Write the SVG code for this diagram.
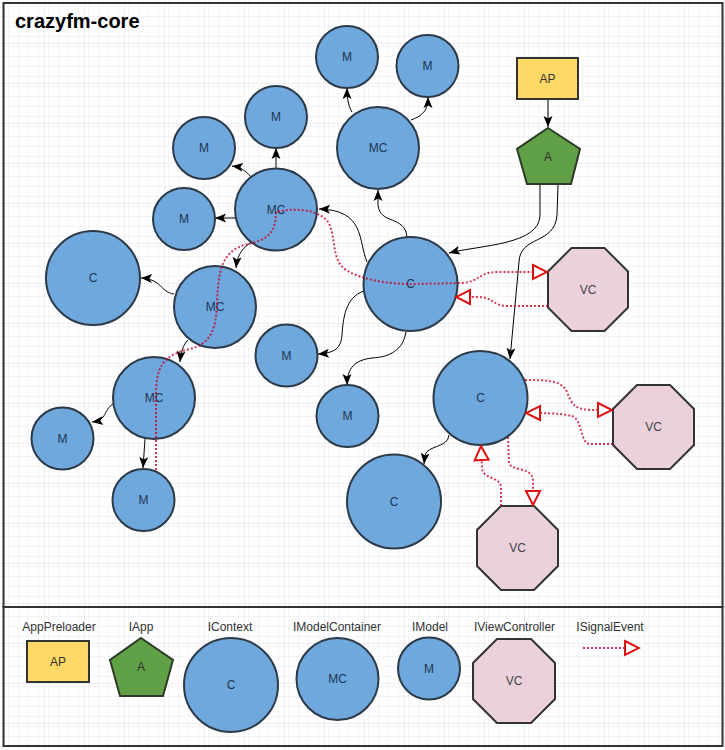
<svg xmlns="http://www.w3.org/2000/svg" width="725" height="750" viewBox="0 0 725 750">
<defs>
<pattern id="minor" width="10" height="10" patternUnits="userSpaceOnUse" x="4" y="3">
<path d="M10,0 L0,0 L0,10" fill="none" stroke="#e9e9f2" stroke-width="1"/>
</pattern>
<pattern id="major" width="40" height="40" patternUnits="userSpaceOnUse" x="4" y="3">
<rect width="40" height="40" fill="url(#minor)"/>
<path d="M40,0 L0,0 L0,40" fill="none" stroke="#dcdce8" stroke-width="1"/>
</pattern>
<marker id="arr" markerUnits="userSpaceOnUse" markerWidth="12" markerHeight="10" viewBox="0 0 12 10" refX="11" refY="5" orient="auto">
<path d="M0,0.5 L11,5 L0,9.5 L2.5,5 Z" fill="#000"/>
</marker>
<marker id="sig" markerUnits="userSpaceOnUse" markerWidth="18" markerHeight="18" viewBox="0 0 18 18" refX="16" refY="9" orient="auto">
<path d="M2,2 L16,9 L2,16 Z" fill="#fff" stroke="#dd1111" stroke-width="2"/>
</marker>
<style>
text{font-family:"Liberation Sans",Arial,sans-serif;font-size:12px;text-anchor:middle;dominant-baseline:central}
.frame{fill:none;stroke:#333;stroke-width:2}
.c{fill:#6fa8dc;stroke:#2c3a48;stroke-width:2}
.vc{fill:#ead1dc;stroke:#333;stroke-width:2}
.ap{fill:#ffd966;stroke:#333;stroke-width:2}
.a{fill:#60a047;stroke:#2e3a26;stroke-width:2}
.lc{fill:#1c3552}
.lv{fill:#444}
.ld{fill:#333}
.k{fill:none;stroke:#000;stroke-width:1;marker-end:url(#arr)}
.s{fill:none;stroke:#cc0022;stroke-opacity:0.78;stroke-width:2;stroke-dasharray:2 2;marker-end:url(#sig)}
.title{font-size:20px;font-weight:bold;text-anchor:start;dominant-baseline:alphabetic;fill:#000}
</style>
</defs>
<rect width="725" height="750" fill="#fff"/>
<rect width="725" height="750" fill="url(#major)"/>
<rect class="frame" x="3.5" y="3" width="719" height="604"/>
<rect class="frame" x="3.5" y="607" width="719" height="139"/>
<text class="title" x="15" y="28">crazyfm-core</text>

<g id="connectors">
<path class="k" d="M548,99 L548,127"/>
<path class="k" d="M540,184 L540,215 C540,245 480,245 449,253"/>
<path class="k" d="M558,184 L557,215 C555,245 520,235 519,262 L510,359"/>
<path class="k" d="M407,237 C405,215 380,225 378,205 L378,190"/>
<path class="k" d="M367,262 C358,240 365,210 319,209"/>
<path class="k" d="M364,291 C345,297 343,320 342,335 C341,348 335,353 318,354"/>
<path class="k" d="M406,332 C403,350 390,357 372,358 C355,360 347,368 347,385"/>
<path class="k" d="M276,168 L276,148"/>
<path class="k" d="M251,177 C245,170 240,167 232,166"/>
<path class="k" d="M235,218 L215,218"/>
<path class="k" d="M250,243 C240,250 237,258 236,268"/>
<path class="k" d="M174,294 C160,292 162,279 141,278"/>
<path class="k" d="M188,340 C183,345 181,352 180,362"/>
<path class="k" d="M113,404 C103,410 108,420 92,422"/>
<path class="k" d="M145,439 L143,468"/>
<path class="k" d="M352,112 C348,105 347,98 347,88"/>
<path class="k" d="M411,120 C425,115 428,108 428,97"/>
<path class="k" d="M449,435 C448,448 428,445 425,455 L424,464"/>
</g>

<g id="ap"><rect class="ap" x="517" y="58" width="61" height="41"/><text class="ld" x="547.5" y="78.5">AP</text></g>
<g id="a"><polygon class="a" points="548,128 580,149 571,184 527,184 517,149"/><text class="ld" x="548" y="157">A</text></g>
<g id="m1"><circle class="c" cx="347" cy="57" r="31"/><text class="lc" x="347" y="57">M</text></g>
<g id="m2"><circle class="c" cx="427.5" cy="66" r="31"/><text class="lc" x="427.5" y="66">M</text></g>
<g id="mc1"><circle class="c" cx="378" cy="148" r="41"/><text class="lc" x="378" y="148">MC</text></g>
<g id="m3"><circle class="c" cx="276" cy="117" r="31"/><text class="lc" x="276" y="117">M</text></g>
<g id="m4"><circle class="c" cx="204" cy="148" r="31"/><text class="lc" x="204" y="148">M</text></g>
<g id="m5"><circle class="c" cx="184" cy="219" r="31"/><text class="lc" x="184" y="219">M</text></g>
<g id="mc2"><circle class="c" cx="276" cy="209.5" r="41"/><text class="lc" x="276" y="209.5">MC</text></g>
<g id="c1"><circle class="c" cx="93" cy="278" r="47"/><text class="lc" x="93" y="278">C</text></g>
<g id="mc3"><circle class="c" cx="215" cy="307" r="41"/><text class="lc" x="215" y="307">MC</text></g>
<g id="mc4"><circle class="c" cx="154" cy="398" r="41"/><text class="lc" x="154" y="398">MC</text></g>
<g id="m6"><circle class="c" cx="62.5" cy="438.5" r="31"/><text class="lc" x="62.5" y="438.5">M</text></g>
<g id="m7"><circle class="c" cx="143.5" cy="500" r="31"/><text class="lc" x="143.5" y="500">M</text></g>
<g id="c2"><circle class="c" cx="410.5" cy="284" r="47"/><text class="lc" x="410.5" y="284">C</text></g>
<g id="m8"><circle class="c" cx="286.5" cy="355.5" r="31"/><text class="lc" x="286.5" y="355.5">M</text></g>
<g id="m9"><circle class="c" cx="347.5" cy="416" r="31"/><text class="lc" x="347.5" y="416">M</text></g>
<g id="c3"><circle class="c" cx="480.5" cy="398" r="47"/><text class="lc" x="480.5" y="398">C</text></g>
<g id="c4"><circle class="c" cx="394" cy="501.5" r="47"/><text class="lc" x="394" y="501.5">C</text></g>
<g id="vc1"><polygon class="vc" points="571.5,248 604.5,248 628,271.5 628,307.5 604.5,331 571.5,331 548,307.5 548,271.5"/><text class="lv" x="588" y="289.5">VC</text></g>
<g id="vc2"><polygon class="vc" points="637,385 670,385 694,409 694,445 670,469 637,469 613,445 613,409"/><text class="lv" x="653.5" y="427">VC</text></g>
<g id="vc3"><polygon class="vc" points="501,506 534,506 558,530 558,566 534,590 501,590 477,566 477,530"/><text class="lv" x="517.5" y="548">VC</text></g>

<g id="signals">
<path class="s" d="M156,470 L156,395 C156,368 162,355 190,349 C210,344 216,330 217,305 C218,270 222,250 248,244 C268,240 276,232 276,212 C290,208 318,208 328,222 C337,236 330,262 348,271 C362,280 390,284 411,284 L462,283 C480,282 478,272 498,272 L547,272"/>
<path class="s" d="M548,306 L508,306 C492,306 494,297 478,297 L456,297"/>
<path class="s" d="M525,380 C545,380 562,380 567,392 C572,405 575,409 590,410 L612,410"/>
<path class="s" d="M613,444 L590,444 C580,444 583,420 572,416 C560,413 540,413 526,413"/>
<path class="s" d="M508,437 L509,462 C510,472 532,466 533,480 L533,505"/>
<path class="s" d="M501,506 L501,488 C501,476 483,480 482,468 L481,446"/>
</g>

<g id="legend">
<g id="lg-ap"><text class="ld" x="59" y="627">AppPreloader</text><rect class="ap" x="27" y="641" width="62" height="41"/><text class="ld" x="58" y="661.5">AP</text></g>
<g id="lg-a"><text class="ld" x="141" y="627">IApp</text><polygon class="a" points="141,638 173,660 163,696 120,696 110,660"/><text class="ld" x="141" y="667">A</text></g>
<g id="lg-c"><text class="ld" x="230" y="627">IContext</text><circle class="c" cx="231" cy="685" r="47"/><text class="lc" x="231" y="685">C</text></g>
<g id="lg-mc"><text class="ld" x="337" y="627">IModelContainer</text><circle class="c" cx="337.5" cy="679" r="41"/><text class="lc" x="337.5" y="679">MC</text></g>
<g id="lg-m"><text class="ld" x="430" y="627">IModel</text><circle class="c" cx="429" cy="668.5" r="31"/><text class="lc" x="429" y="668.5">M</text></g>
<g id="lg-vc"><text class="ld" x="514.5" y="627">IViewController</text><polygon class="vc" points="497,639 531,639 555,663 555,699 531,723 497,723 473,699 473,663"/><text class="lv" x="514" y="681">VC</text></g>
<g id="lg-s"><text class="ld" x="610" y="627">ISignalEvent</text><path class="s" d="M583,648 L639,648"/></g>
</g>
</svg>
